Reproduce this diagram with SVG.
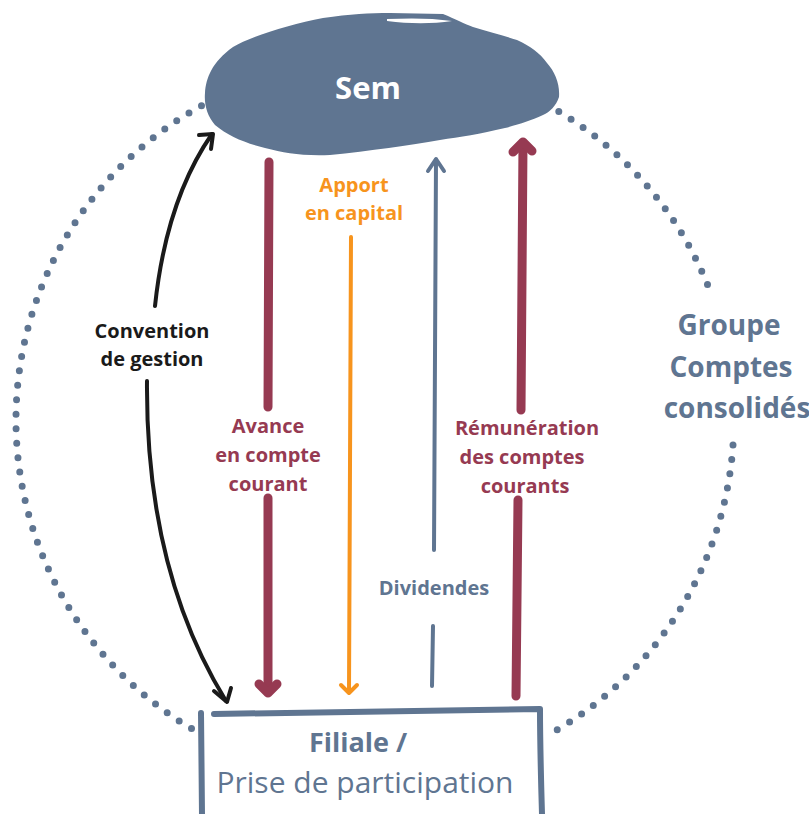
<svg xmlns="http://www.w3.org/2000/svg" width="809" height="814" viewBox="0 0 809 814">
<style>
.dots{fill:none;stroke:#5f7591;stroke-width:7;stroke-linecap:round;stroke-dasharray:0 14.5}
.lbl{font-family:"Open Sans","Noto Sans",sans-serif;font-weight:700;font-size:20px;text-anchor:middle}
.maroon{fill:#963a52}
.orange{fill:#f7941d}
.blue{fill:#5f7591}
.black{fill:#1a1a1a}
.ml{fill:none;stroke:#963a52;stroke-width:9;stroke-linecap:round;stroke-linejoin:round}
.ol{fill:none;stroke:#f7941d;stroke-width:4;stroke-linecap:round;stroke-linejoin:round}
.bl{fill:none;stroke:#5f7591;stroke-width:4;stroke-linecap:round;stroke-linejoin:round}
.kl{fill:none;stroke:#1a1a1a;stroke-width:4;stroke-linecap:round;stroke-linejoin:round}
</style>
<g id="group-circle">
<path class="dots" d="M 201.5 105.7 A 359 359 0 0 0 196 731.2"/>
<path class="dots" d="M 558.8 111.6 A 359 359 0 0 1 711.3 294.3"/>
<path class="dots" d="M 733 445 A 359 359 0 0 1 548 735"/>
<text class="lbl blue" style="font-size:28px" x="729" y="335">Groupe</text>
<text class="lbl blue" style="font-size:28px" x="731" y="377">Comptes</text>
<text class="lbl blue" style="font-size:28px" x="737" y="418">consolidés</text>
</g>
<g id="connectors">
<g id="convention">
<path class="kl" d="M 155 306 C 162 240, 180 180, 212 134"/>
<path class="kl" d="M 199 135 L 213 134 L 211 149"/>
<path class="kl" d="M 147 381 C 146 500, 170 610, 226 701"/>
<path class="kl" d="M 214 691 L 227 702 L 231 688"/>
<text class="lbl black" x="152" y="338">Convention</text>
<text class="lbl black" x="152" y="366">de gestion</text>
</g>
<g id="avance">
<path class="ml" d="M 269 162 L 268 407"/>
<path class="ml" d="M 268 498 L 268 692"/>
<path class="ml" d="M 259 684 L 268 693 L 277 684"/>
<text class="lbl maroon" x="268" y="433">Avance</text>
<text class="lbl maroon" x="268" y="462">en compte</text>
<text class="lbl maroon" x="268" y="491">courant</text>
</g>
<g id="apport">
<path class="ol" d="M 351 237 L 349 692"/>
<path class="ol" d="M 341 685 L 349 693 L 357 685"/>
<text class="lbl orange" x="354" y="192">Apport</text>
<text class="lbl orange" x="354" y="220">en capital</text>
</g>
<g id="dividendes">
<path class="bl" d="M 432 686 L 433 626"/>
<path class="bl" d="M 434 550 L 436 160"/>
<path class="bl" d="M 428 171 L 436 159 L 444 171"/>
<text class="lbl blue" x="434" y="595">Dividendes</text>
</g>
<g id="remuneration">
<path class="ml" d="M 516 696 L 518 500"/>
<path class="ml" d="M 521 410 L 523 143"/>
<path class="ml" d="M 513 152 L 523 142 L 532 151"/>
<text class="lbl maroon" x="527" y="435">Rémunération</text>
<text class="lbl maroon" x="522" y="464">des comptes</text>
<text class="lbl maroon" x="525" y="493">courants</text>
</g>
</g>
<g id="sem">
<path fill="#5f7591" d="M 205 93 C 206 78, 212 62, 233 47 C 250 37, 290 24, 323 18 C 350 14, 370 13, 390 13 L 443 14 C 455 19, 465 24, 473 27 C 490 32, 505 36, 517 40 C 530 46, 540 53, 547 63 C 555 72, 560 84, 559 97 C 556 106, 550 112, 543 115 C 530 121, 520 124, 505 128 C 480 134, 460 137, 440 140 C 410 145, 370 151, 330 155 C 300 156, 285 153, 265 148 C 245 143, 228 136, 215 125 C 207 116, 204 104, 205 93 Z"/>
<path fill="#ffffff" d="M 387 19 C 410 18, 432 18, 452 21 C 432 24, 410 24, 387 21 Z"/>
<text x="368" y="99" style="font-family:'Open Sans','Noto Sans',sans-serif;font-weight:700;font-size:31px;fill:#ffffff;text-anchor:middle">Sem</text>
</g>
<g id="filiale">
<path fill="#ffffff" d="M 202 714 L 541 710 L 541 814 L 202 814 Z"/>
<path fill="none" stroke="#5f7591" stroke-width="6" stroke-linecap="round" d="M 201 713 L 202 814 M 214 714 C 300 712, 420 710, 540 709 M 540 709 C 540 740, 541 780, 542 814"/>
<text x="358" y="752" style="font-family:'Open Sans','Noto Sans',sans-serif;font-weight:700;font-size:27px;fill:#5f7591;text-anchor:middle">Filiale /</text>
<text x="365" y="793" style="font-family:'Open Sans','Noto Sans',sans-serif;font-weight:400;font-size:30px;fill:#5f7591;text-anchor:middle">Prise de participation</text>
</g>
</svg>
